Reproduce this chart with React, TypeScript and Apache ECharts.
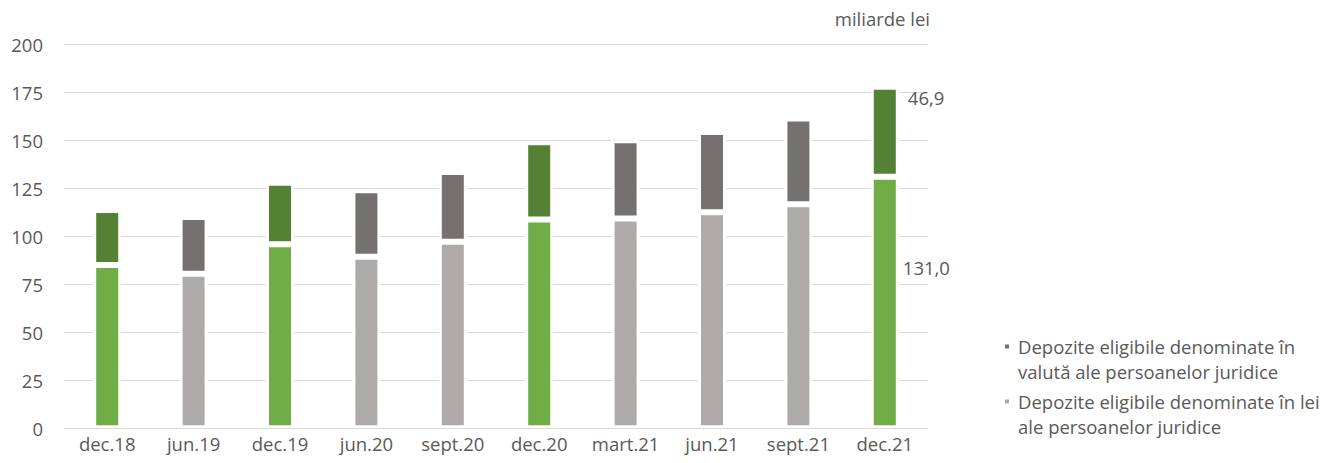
import React, { useEffect, useRef } from "react";
import * as echarts from "echarts";

const categories = ["dec.18", "jun.19", "dec.19", "jun.20", "sept.20", "dec.20", "mart.21", "jun.21", "sept.21", "dec.21"];
const leiValues = [85.0, 80.5, 95.8, 89.3, 97.2, 108.7, 109.3, 112.5, 116.7, 131.0];
const valutaValues = [28.7, 29.5, 32.1, 34.7, 36.3, 40.3, 40.7, 41.8, 44.6, 46.9];
const yTicks = { min: 0, max: 200, interval: 25 };
const seriesNames = [
  "Depozite eligibile denominate în lei\nale persoanelor juridice",
  "Depozite eligibile denominate în\nvalută ale persoanelor juridice",
];
const unitLabel = "miliarde lei";

const TEXT = "#595959";
const FONT = "Open Sans";
const FS = 18.5;
const GREEN_LIGHT = "#70AD47";
const GREEN_DARK = "#548235";
const GREY_LIGHT = "#AEAAAA";
const GREY_DARK = "#767171";

const fmt = (v: number) => v.toFixed(1).replace(".", ",");

export default function App() {
  const ref = useRef<HTMLDivElement>(null);
  useEffect(() => {
    if (!ref.current) return;
    const chart = echarts.init(ref.current, undefined, { renderer: "svg" });
    const last = categories.length - 1;
    const isDec = (c: string) => c.startsWith("dec");

    const leiData = leiValues.map((v, i) => ({
      value: v,
      itemStyle: { color: isDec(categories[i]) ? GREEN_LIGHT : GREY_LIGHT },
      label:
        i === last
          ? { show: true, position: [32, 91], align: "left", verticalAlign: "middle", formatter: (p: any) => fmt(p.value) }
          : { show: false },
    }));
    const valutaData = valutaValues.map((v, i) => ({
      value: v,
      itemStyle: { color: isDec(categories[i]) ? GREEN_DARK : GREY_DARK },
      label:
        i === last
          ? { show: true, position: [37, 11], align: "left", verticalAlign: "middle", formatter: (p: any) => fmt(p.value) }
          : { show: false },
    }));

    const labelStyle = { color: TEXT, fontFamily: FONT, fontSize: FS };

    chart.setOption({
      animation: false,
      backgroundColor: "#fff",
      textStyle: { fontFamily: FONT },
      title: {
        text: unitLabel,
        right: 395,
        top: 9,
        padding: 0,
        textStyle: { color: TEXT, fontFamily: FONT, fontSize: FS, fontWeight: "normal" },
      },
      grid: { left: 64, right: 397, top: 44.3, bottom: 34.7, containLabel: false },
      legend: {
        data: [seriesNames[1], seriesNames[0]],
        orient: "vertical",
        left: 1003,
        top: 309,
        padding: 0,
        itemGap: -20,
        itemWidth: 6,
        itemHeight: 6,
        icon: "rect",
        selectedMode: false,
        formatter: (name: string) => "\n" + name,
        textStyle: { color: TEXT, fontFamily: FONT, fontSize: FS, lineHeight: 25, padding: [0, 0, 0, 3] },
      },
      xAxis: {
        type: "category",
        data: categories,
        z: 5,
        axisLine: { show: true, lineStyle: { color: "#D9D9D9", width: 1 } },
        axisTick: { show: false },
        axisLabel: { ...labelStyle, margin: 6, interval: 0 },
        splitLine: { show: false },
      },
      yAxis: {
        type: "value",
        min: yTicks.min,
        max: yTicks.max,
        interval: yTicks.interval,
        axisLine: { show: false },
        axisTick: { show: false },
        axisLabel: { ...labelStyle, margin: 21 },
        splitLine: { show: true, lineStyle: { color: "#D9D9D9", width: 1 } },
      },
      series: [
        {
          name: seriesNames[0],
          type: "bar",
          stack: "total",
          barWidth: 28,
          itemStyle: { color: GREY_LIGHT, borderColor: "#fff", borderWidth: 3 },
          label: { ...labelStyle },
          data: leiData,
        },
        {
          name: seriesNames[1],
          type: "bar",
          stack: "total",
          barWidth: 28,
          itemStyle: { color: GREY_DARK, borderColor: "#fff", borderWidth: 3 },
          label: { ...labelStyle },
          data: valutaData,
        },
      ],
    });
    return () => chart.dispose();
  }, []);
  return (
    <div
      ref={ref}
      style={{ position: "fixed", left: 0, top: 0, width: 1325, height: 463, background: "#fff" }}
    />
  );
}
